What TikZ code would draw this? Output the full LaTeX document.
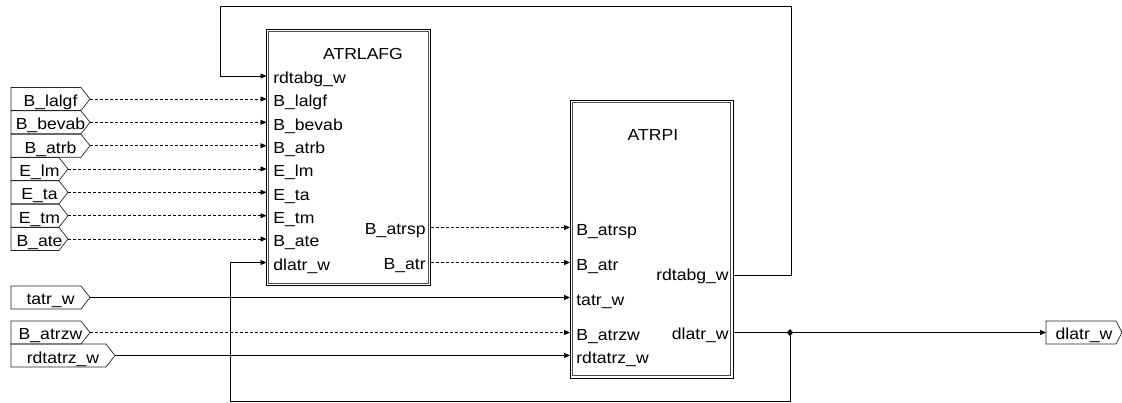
\documentclass[tikz,border=0pt]{standalone}
\usepackage{fontspec}
\setmainfont{Liberation Sans}[FakeStretch=1.1]
\usetikzlibrary{arrows.meta,shapes.geometric}
\newcommand{\inport}[4]{%
  \node[porttext] (#1) at ({(11+#3)/2},#2+7.5) {#4};
  \draw[portline] (11,#2-11.5) -- (#3-9,#2-11.5) -- (#3,#2) -- (#3-9,#2+11.5) -- (11,#2+11.5) -- cycle;
  \coordinate (#1-tip) at (#3,#2);
}
\begin{document}
\begin{tikzpicture}[x=1pt,y=-1pt,
  font=\fontsize{16}{18}\selectfont,
  line width=0.7pt,
  blockbox/.style={draw, line width=0.7pt, inner sep=0, outer sep=0},
  innerbox/.style={draw=black!70, line width=0.7pt},
  lbl/.style={inner sep=0, anchor=base west},
  rlbl/.style={inner sep=0, anchor=base east},
  ttl/.style={inner sep=0, anchor=base},
  porttext/.style={inner sep=0, anchor=base},
  portline/.style={draw=black!85, line width=0.7pt},
  arr/.style={-{Triangle[length=6pt,width=5pt]}},
  dsh/.style={dash pattern=on 3pt off 2pt},
  junc/.style={diamond, fill, inner sep=0, minimum size=7pt}
]
\useasboundingbox (0,0) rectangle (1122,403);

% blocks
\node[blockbox, minimum width=164pt, minimum height=256pt] (blkA) at (348.5,157.5) {};
\draw[innerbox] ([shift={(2.2,2.2)}]blkA.north west) rectangle ([shift={(-2.2,-2.2)}]blkA.south east);
\node[ttl] (At) at (363,60) {ATRLAFG};
\node[blockbox, minimum width=163pt, minimum height=278pt] (blkB) at (651.5,239) {};
\draw[innerbox] ([shift={(2.2,2.2)}]blkB.north west) rectangle ([shift={(-2.2,-2.2)}]blkB.south east);
\node[ttl] (Bt) at (653,141) {ATRPI};

% ATRLAFG inputs
\foreach \n/\t/\y in {0/rdtabg\_w/76, 1/B\_lalgf/99, 2/B\_bevab/122.3, 3/B\_atrb/145.7, 4/E\_lm/169, 5/E\_ta/192.3, 6/E\_tm/215.7, 7/B\_ate/239, 8/dlatr\_w/262.5}{
  \node[lbl] (Al\n) at (273,\y+8) {\t};
  \coordinate (Ain\n) at (266.5,\y);
}
% ATRLAFG outputs
\node[rlbl] (Ao1l) at (426,234.5) {B\_atrsp};
\coordinate (Aout1) at (430.5,227.5);
\node[rlbl] (Ao2l) at (426,269.5) {B\_atr};
\coordinate (Aout2) at (430.5,262.5);

% ATRPI inputs
\foreach \n/\t/\y in {1/B\_atrsp/227.5, 2/B\_atr/262.5, 3/tatr\_w/297.5, 4/B\_atrzw/332.5, 5/rdtatrz\_w/355.5}{
  \node[lbl] (Bl\n) at (576,\y+8) {\t};
  \coordinate (Bin\n) at (570,\y);
}
% ATRPI outputs
\node[rlbl] (Bo1l) at (729,281) {rdtabg\_w};
\coordinate (Bout1) at (733,275);
\node[rlbl] (Bo2l) at (729,340) {dlatr\_w};
\coordinate (Bout2) at (733,332.5);

% input ports
\inport{pA}{99}{90}{B\_lalgf}
\inport{pB}{122.3}{90}{B\_bevab}
\inport{pC}{145.7}{90}{B\_atrb}
\inport{pD}{169}{68}{E\_lm}
\inport{pE}{192.3}{68}{E\_ta}
\inport{pF}{215.7}{68}{E\_tm}
\inport{pG}{239}{68}{B\_ate}
\inport{pH}{297.5}{90}{tatr\_w}
\inport{pI}{332.5}{90}{B\_atrzw}
\inport{pJ}{355.5}{115}{rdtatrz\_w}

% output port
\node[porttext] (pout) at (1084,340) {dlatr\_w};
\draw[portline] (1046,321) -- (1116,321) -- (1122,332.5) -- (1116,344) -- (1046,344) -- cycle;
\coordinate (pout-in) at (1046,332.5);

% connectors into ATRLAFG
\draw[arr,dsh] (pA-tip) -- (Ain1);
\draw[arr,dsh] (pB-tip) -- (Ain2);
\draw[arr,dsh] (pC-tip) -- (Ain3);
\draw[arr,dsh] (pD-tip) -- (Ain4);
\draw[arr,dsh] (pE-tip) -- (Ain5);
\draw[arr,dsh] (pF-tip) -- (Ain6);
\draw[arr,dsh] (pG-tip) -- (Ain7);

% ATRLAFG -> ATRPI
\draw[arr,dsh] (Aout1) -- (Bin1);
\draw[arr,dsh] (Aout2) -- (Bin2);

% ports -> ATRPI
\draw[arr] (pH-tip) -- (Bin3);
\draw[arr,dsh] (pI-tip) -- (Bin4);
\draw[arr] (pJ-tip) -- (Bin5);

% feedback rdtabg_w
\draw[arr] (Bout1) -- (791,275) -- (791,6) -- (220,6) -- (220,76) -- (Ain0);

% dlatr_w output and feedback
\node[junc] (j) at (790,332.5) {};
\draw (Bout2) -- (j.center);
\draw[arr] (j.center) -- (pout-in);
\draw[arr] (j.center) -- (790,401.5) -- (230,401.5) -- (230,262.5) -- (Ain8);
\end{tikzpicture}
\end{document}
